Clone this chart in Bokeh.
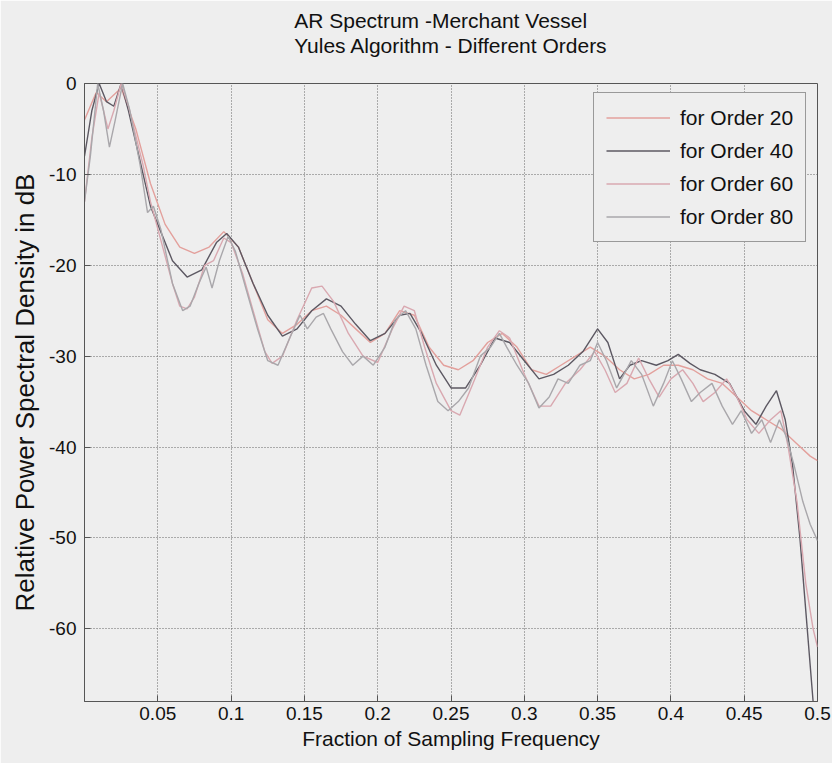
from bokeh.plotting import figure
from bokeh.models import Title, FixedTicker, Legend, LegendItem, Range1d, PrintfTickFormatter
from bokeh.embed import file_html
from bokeh.resources import INLINE

# ---- data ----
title_line1 = "AR Spectrum -Merchant Vessel"
title_line2 = "Yules Algorithm - Different Orders"
x_label = "Fraction of Sampling Frequency"
y_label = "Relative Power Spectral Density in dB"
x_ticks = [0.05, 0.1, 0.15, 0.2, 0.25, 0.3, 0.35, 0.4, 0.45, 0.5]
y_ticks = [0, -10, -20, -30, -40, -50, -60]
series_names = ["for Order 20", "for Order 40", "for Order 60", "for Order 80"]

f20 = [0, 0.008, 0.015, 0.025, 0.035, 0.045, 0.055, 0.065, 0.075, 0.085, 0.095, 0.105, 0.115,
       0.125, 0.135, 0.145, 0.155, 0.165, 0.175, 0.185, 0.195, 0.205, 0.215, 0.225, 0.235, 0.245,
       0.255, 0.265, 0.275, 0.285, 0.295, 0.305, 0.315, 0.325, 0.335, 0.345, 0.355, 0.365, 0.375,
       0.385, 0.395, 0.405, 0.415, 0.425, 0.435, 0.445, 0.455, 0.465, 0.475, 0.485, 0.495, 0.5]
p20 = [-4, -1, -2, -0.5, -5, -11, -15.5, -18, -18.7, -18, -16.3, -18, -22,
       -26, -27.5, -26.5, -25, -24.5, -25.5, -27, -28.5, -27.5, -25, -25.5, -29, -31,
       -31.5, -30.5, -28.5, -27.5, -29, -31.5, -32, -31, -30, -29, -30, -31.5, -32.5,
       -32, -31, -31, -31.5, -32.5, -33, -34.5, -36, -37, -38, -39.5, -41, -41.5]

f40 = [0, 0.005, 0.01, 0.015, 0.02, 0.025, 0.03, 0.04, 0.045, 0.05, 0.06, 0.07, 0.08, 0.09,
       0.097, 0.105, 0.115, 0.125, 0.135, 0.145, 0.155, 0.165, 0.175, 0.185, 0.195, 0.205,
       0.215, 0.222, 0.23, 0.24, 0.25, 0.26, 0.27, 0.28, 0.29, 0.3, 0.31, 0.32, 0.33, 0.34,
       0.35, 0.357, 0.365, 0.372, 0.38, 0.39, 0.398, 0.405, 0.413, 0.42, 0.43, 0.44, 0.45,
       0.458, 0.465, 0.472, 0.478, 0.483, 0.488, 0.493, 0.497, 0.5]
p40 = [-8, -3, 0, -2, -2.5, 0, -3, -10, -13.5, -15.5, -19.5, -21.3, -20.5, -17.5,
       -16.5, -18, -22, -25.5, -27.8, -27, -25, -23.7, -24.5, -26.5, -28.3, -27.5,
       -25.5, -25.3, -27.5, -31, -33.5, -33.5, -31, -28, -28.5, -30.5, -32.5, -32, -31, -29.5,
       -27, -28.5, -32.5, -31, -30.5, -31, -30.5, -29.8, -30.8, -31.5, -32, -33, -36,
       -37.5, -35.5, -33.8, -37, -42, -50, -60, -68, -72]

f60 = [0, 0.005, 0.01, 0.016, 0.02, 0.025, 0.03, 0.04, 0.045, 0.05, 0.06, 0.065, 0.07, 0.075,
       0.082, 0.088, 0.095, 0.1, 0.108, 0.115, 0.123, 0.128, 0.135, 0.145, 0.155, 0.162, 0.17,
       0.18, 0.19, 0.2, 0.21, 0.218, 0.225, 0.232, 0.24, 0.25, 0.256, 0.265, 0.275, 0.283,
       0.29, 0.3, 0.31, 0.318, 0.328, 0.338, 0.348, 0.355, 0.362, 0.37, 0.378, 0.385, 0.392,
       0.4, 0.408, 0.415, 0.422, 0.43, 0.438, 0.445, 0.452, 0.46, 0.468, 0.475, 0.48, 0.486,
       0.492, 0.497, 0.5]
p60 = [-13, -6, -1, -5, -3, 0, -2.5, -9, -13, -16, -22, -24.5, -24.8, -23.5,
       -20, -19.5, -17, -17.5, -21, -25, -29.5, -30.8, -30, -26, -22.5, -22.3, -24,
       -27.5, -30, -30.7, -27, -24.5, -25, -29, -33, -36, -36.5, -33, -29, -27.2,
       -28, -32, -35.5, -35.5, -33, -31.5, -29.5, -31.5, -34, -33, -30.2, -32.5, -34.5,
       -32.5, -31.5, -33, -35, -34, -32.5, -34.5, -37, -38.5, -37, -36, -40, -46,
       -55, -60, -62]

f80 = [0, 0.004, 0.009, 0.013, 0.017, 0.021, 0.026, 0.031, 0.038, 0.043, 0.047, 0.052, 0.06,
       0.067, 0.072, 0.078, 0.083, 0.087, 0.092, 0.098, 0.103, 0.11, 0.118, 0.125, 0.132, 0.14,
       0.147, 0.152, 0.158, 0.163, 0.168, 0.176, 0.183, 0.19, 0.197, 0.205, 0.212, 0.219, 0.226,
       0.233, 0.241, 0.248, 0.255, 0.262, 0.27, 0.277, 0.283, 0.288, 0.295, 0.303, 0.31, 0.317,
       0.323, 0.33, 0.338, 0.345, 0.35, 0.356, 0.363, 0.368, 0.373, 0.38, 0.388, 0.395, 0.401,
       0.407, 0.414, 0.42, 0.428, 0.435, 0.442, 0.448, 0.455, 0.462, 0.468, 0.474, 0.479, 0.484,
       0.49, 0.495, 0.5]
p80 = [-13, -8, 0, -3, -7, -4, 0, -3, -9, -14.2, -13.5, -16, -22,
       -25, -24.5, -22, -20.2, -22.5, -19.5, -16.8, -18.5, -22.5, -27, -30.5, -31, -28,
       -25.5, -27, -25.7, -25.3, -27, -29.5, -31, -30, -31, -29, -26, -25, -27,
       -31, -35, -36, -35, -33.5, -30, -29, -27.5, -29, -31, -33, -35.7, -34.5,
       -32.5, -33, -31, -30.5, -28.5, -30.5, -33.5, -32, -30.5, -32, -35.5, -33, -30.5,
       -32.5, -35, -34, -33, -35.5, -37.5, -36, -38.5, -37, -39.5, -37, -39, -42,
       -46, -48.5, -50.3]

freqs = [f20, f40, f60, f80]
powers = [p20, p40, p60, p80]
colors = ["#e3a09c", "#5c5862", "#d9a8b0", "#a9a7ab"]

FONT = "Liberation Sans"
BG = "#eeeeee"

p = figure(width=832, height=763, output_backend="svg", toolbar_location=None,
           x_range=Range1d(0, 0.5), y_range=Range1d(-68, 0),
           min_border_left=84, min_border_right=15, min_border_top=83, min_border_bottom=62,
           background_fill_color=BG, border_fill_color=BG)
p.title = None

# blank spacer between the frame and the title block
spacer = Title(text=" ", align="center", text_font=FONT, text_font_size="10px",
               text_line_height=1.0, standoff=13)
p.add_layout(spacer, "above")
t = Title(text=title_line1 + "\n" + title_line2, align="center",
          text_font=FONT, text_font_size="21px", text_font_style="normal",
          text_color="#111111", text_line_height=1.1, standoff=0)
p.add_layout(t, "above")

items = []
for name, fx, py, c in zip(series_names, freqs, powers, colors):
    r = p.line(fx, py, line_color=c, line_width=1.4)
    items.append(LegendItem(label=name, renderers=[r]))

p.xaxis.ticker = FixedTicker(ticks=x_ticks)
p.yaxis.ticker = FixedTicker(ticks=y_ticks)
p.yaxis.formatter = PrintfTickFormatter(format="%d")
p.xaxis.axis_label = x_label
p.yaxis.axis_label = y_label
for ax in (p.xaxis, p.yaxis):
    ax.axis_label_text_font = FONT
    ax.axis_label_text_font_style = "normal"
    ax.axis_label_text_color = "#111111"
    ax.major_label_text_font = FONT
    ax.major_label_text_font_size = "19px"
    ax.major_label_text_color = "#111111"
    ax.axis_line_color = "#555555"
    ax.major_tick_line_color = "#555555"
    ax.major_tick_in = 6
    ax.major_tick_out = 0
    ax.minor_tick_line_color = None
p.xaxis.axis_label_text_font_size = "21px"
p.yaxis.axis_label_text_font_size = "26px"
p.xaxis.axis_label_standoff = 4
p.yaxis.axis_label_standoff = 6
p.yaxis.major_label_standoff = 8

p.grid.grid_line_color = "#666666"
p.grid.grid_line_dash = "1 2"
p.grid.grid_line_width = 1
p.outline_line_color = "#555555"
p.outline_line_width = 1

legend = Legend(items=items, location=(509, 459), background_fill_color=BG,
                background_fill_alpha=1.0, border_line_color="#444444", border_line_width=1,
                label_text_font=FONT, label_text_font_size="21px", label_text_color="#111111",
                glyph_width=64, glyph_height=25, label_height=25, spacing=8, padding=12,
                label_standoff=10, margin=0)
p.add_layout(legend, "center")

open("out.html", "w").write(file_html(p, INLINE))
